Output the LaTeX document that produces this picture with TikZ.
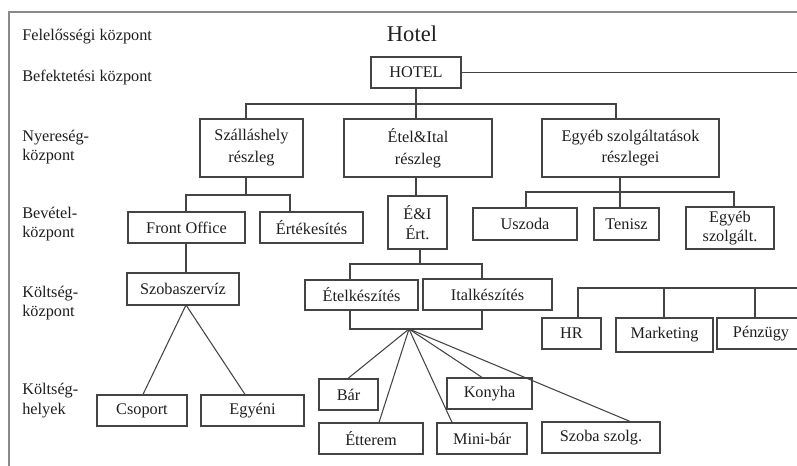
\documentclass[tikz,border=0pt]{standalone}
\usepackage{fontspec}
\setmainfont{Liberation Serif}
\definecolor{lc}{HTML}{444444}
\definecolor{fc}{HTML}{8A8A8A}
\definecolor{tc}{HTML}{1E1E1E}
\begin{document}
\begin{tikzpicture}[x=0.75pt,y=-0.75pt,
  bx/.style 2 args={draw=lc, line width=0.9pt, inner sep=0pt, minimum width=#1*0.75pt, minimum height=#2*0.75pt, align=center, text=tc, font=\fontsize{12.2}{14.6}\selectfont},
  lbl/.style={anchor=base west, text=tc, inner sep=0pt, font=\fontsize{12.2}{14.6}\selectfont},
  ln/.style={draw=lc, line width=0.8pt}]
\useasboundingbox (0,0) rectangle (797,465);
\clip (0,0) rectangle (797,465);
% frame
\draw[draw=fc, line width=0.8pt] (9,470) -- (9,12) -- (800,12);
% left labels
\node[lbl] (l1) at (22,40) {Felelősségi központ};
\node[lbl] (l2) at (22,81.5) {Befektetési központ};
\node[lbl] (l3a) at (22,141) {Nyereség-};
\node[lbl] (l3b) at (22,160) {központ};
\node[lbl] (l4a) at (22,218) {Bevétel-};
\node[lbl] (l4b) at (22,237) {központ};
\node[lbl] (l5a) at (22,297) {Költség-};
\node[lbl] (l5b) at (22,316) {központ};
\node[lbl] (l6a) at (22,394) {Költség-};
\node[lbl] (l6b) at (22,414) {helyek};
% title
\node[anchor=base, inner sep=0pt, text=tc, font=\fontsize{16.9}{20}\selectfont] (title) at (412,41) {Hotel};
% boxes
\node[bx={90}{31}] (hotel) at (416,72.5) {HOTEL};
\node[bx={103}{58}, font=\fontsize{12.2}{16.5}\selectfont] (szall) at (251.5,148) {Szálláshely\\részleg};
\node[bx={148}{58}, font=\fontsize{12.2}{16.5}\selectfont] (etel) at (418,148) {Étel\&Ital\\részleg};
\node[bx={177}{58}, font=\fontsize{12.2}{15.5}\selectfont] (egy) at (630.5,148) {Egyéb szolgáltatások\\részlegei};
\node[bx={117}{31}] (fo) at (186.5,227.5) {Front Office};
\node[bx={103}{31}] (ert) at (311.5,227.5) {Értékesítés};
\node[bx={59}{53}] (ei) at (417.5,222.5) {É\&I\\Ért.};
\node[bx={104}{32}] (usz) at (525,224) {Uszoda};
\node[bx={65}{32}] (ten) at (626.5,224) {Tenisz};
\node[bx={88}{42}] (egysz) at (730,228) {Egyéb\\szolgált.};
\node[bx={112}{32}] (szoba) at (183,289) {Szobaszervíz};
\node[bx={113}{30}] (etk) at (361.5,295) {Ételkészítés};
\node[bx={129}{31}] (itk) at (487.5,294.5) {Italkészítés};
\node[bx={59}{31}] (hr) at (571.5,333.5) {HR};
\node[bx={97}{34}] (mkt) at (664.5,335) {Marketing};
\node[bx={88}{31}] (penz) at (761,333.5) {Pénzügy};
\node[bx={90}{31}] (csop) at (142,410.5) {Csoport};
\node[bx={103}{31}] (egyeni) at (252.5,410.5) {Egyéni};
\node[bx={59}{31}] (bar) at (348.5,394.5) {Bár};
\node[bx={104}{31}] (etter) at (371,438.5) {Étterem};
\node[bx={90}{31}] (mini) at (482,438.5) {Mini-bár};
\node[bx={85}{31}] (kony) at (489.5,393.5) {Konyha};
\node[bx={118}{31}] (szsz) at (601,437.5) {Szoba szolg.};
% connectors
\coordinate (rhot) at (800,72.5);
\draw[ln] (hotel.east) -- (rhot);
\draw[ln] (hotel.south) -- (hotel.south |- etel.north);
\draw[ln] (246,0 |- szall.north) -- (246,104) -- (616,104) -- (616,0 |- egy.north);
\draw[ln] (246,0 |- szall.south) -- (246,195);
\draw[ln] (186,0 |- fo.north) -- (186,195) -- (290,195) -- (290,0 |- ert.north);
\draw[ln] (416,0 |- etel.south) -- (416,0 |- ei.north);
\draw[ln] (620,0 |- egy.south) -- (620,0 |- ten.north);
\draw[ln] (526,0 |- usz.north) -- (526,192) -- (734,192) -- (734,0 |- egysz.north);
\draw[ln] (186,0 |- fo.south) -- (186,0 |- szoba.north);
\draw[ln] (420,0 |- ei.south) -- (420,264);
\draw[ln] (350,0 |- etk.north) -- (350,264) -- (482,264) -- (482,0 |- itk.north);
\draw[ln] (350,0 |- etk.south) -- (350,329) -- (482,329) -- (482,0 |- itk.south);
\coordinate (fan) at (409,329);
\draw[ln] (fan) -- (348,0 |- bar.north);
\draw[ln] (fan) -- (379,0 |- etter.north);
\draw[ln] (fan) -- (452,0 |- mini.north);
\draw[ln] (fan) -- (482,0 |- kony.north);
\draw[ln] (fan) -- (630,0 |- szsz.north);
\coordinate (sfan) at (186,305);
\draw[ln] (sfan) -- (143,0 |- csop.north);
\draw[ln] (sfan) -- (245,0 |- egyeni.north);
\coordinate (hrend) at (800,288);
\draw[ln] (578,0 |- hr.north) -- (578,288) -- (hrend);
\draw[ln] (664,288) -- (664,0 |- mkt.north);
\draw[ln] (755,288) -- (755,0 |- penz.north);
\end{tikzpicture}
\end{document}
